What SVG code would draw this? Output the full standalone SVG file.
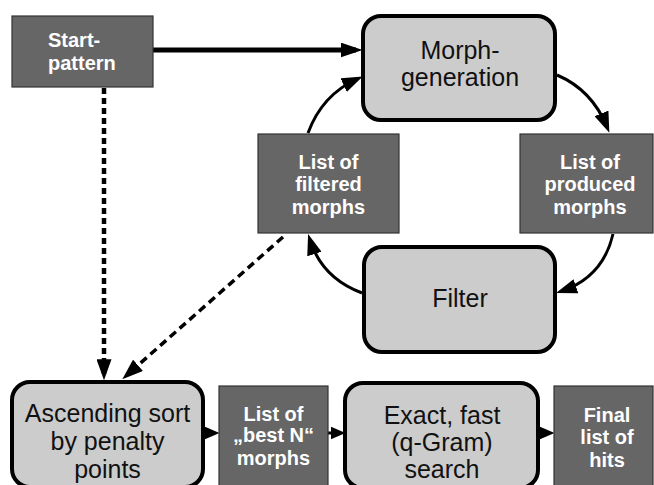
<svg xmlns="http://www.w3.org/2000/svg" width="654" height="485" viewBox="0 0 654 485">
<style>
.dark{fill:#666666;stroke:#333333;stroke-width:1.2}
.light{fill:#cccccc;stroke:#000000;stroke-width:4}
.tb{font-family:"Liberation Sans",Arial,sans-serif;font-weight:bold;font-size:20px;fill:#ffffff;text-anchor:middle}
.tr{font-family:"Liberation Sans",Arial,sans-serif;font-size:25px;fill:#111111;text-anchor:middle}
.c{fill:none;stroke:#000000}
</style>
<defs>
<marker id="big" viewBox="0 0 10 10" refX="7" refY="5" markerWidth="22" markerHeight="15" markerUnits="userSpaceOnUse" orient="auto" preserveAspectRatio="none"><path d="M0,0 L10,5 L0,10 z" fill="#000"/></marker>
<marker id="mid" viewBox="0 0 10 10" refX="7" refY="5" markerWidth="21" markerHeight="15" markerUnits="userSpaceOnUse" orient="auto" preserveAspectRatio="none"><path d="M0,0 L10,5 L0,10 z" fill="#000"/></marker>
<marker id="sm" viewBox="0 0 10 10" refX="7" refY="5" markerWidth="15" markerHeight="13" markerUnits="userSpaceOnUse" orient="auto" preserveAspectRatio="none"><path d="M0,0 L10,5 L0,10 z" fill="#000"/></marker>
</defs>

<g id="connectors">
<line class="c" x1="153" y1="50" x2="356" y2="50" stroke-width="5" marker-end="url(#big)"/>
<line class="c" x1="104" y1="88" x2="104" y2="374" stroke-width="4.5" stroke-dasharray="6,4" marker-end="url(#mid)"/>
<line class="c" x1="283" y1="237" x2="127" y2="375" stroke-width="3.5" stroke-dasharray="8,5" marker-end="url(#mid)"/>
<path class="c" d="M308,133 Q322,95 357,79" stroke-width="3" marker-end="url(#mid)"/>
<path class="c" d="M557,75 Q592,90 607,127" stroke-width="3" marker-end="url(#mid)"/>
<path class="c" d="M613,234 Q603,277 562,291" stroke-width="3" marker-end="url(#mid)"/>
<path class="c" d="M362,293 Q322,278 310,240" stroke-width="3" marker-end="url(#mid)"/>
<line class="c" x1="203" y1="433" x2="215" y2="433" stroke-width="3" marker-end="url(#sm)"/>
<line class="c" x1="328" y1="433" x2="341" y2="433" stroke-width="3" marker-end="url(#sm)"/>
<line class="c" x1="538" y1="433" x2="550" y2="433" stroke-width="3" marker-end="url(#sm)"/>
</g>

<g id="start">
<rect class="dark" x="12" y="16" width="141" height="71"/>
<text class="tb" style="text-anchor:start" x="48" y="47">Start-</text>
<text class="tb" style="text-anchor:start" x="48" y="70">pattern</text>
</g>

<g id="morphgen">
<rect class="light" x="363" y="16" width="192" height="104" rx="18"/>
<text class="tr" x="460" y="59">Morph-</text>
<text class="tr" x="460" y="86">generation</text>
</g>

<g id="filtered">
<rect class="dark" x="258" y="134" width="141" height="99"/>
<text class="tb" x="328.5" y="169">List of</text>
<text class="tb" x="328.5" y="191">filtered</text>
<text class="tb" x="328.5" y="214">morphs</text>
</g>

<g id="produced">
<rect class="dark" x="520" y="134" width="133" height="99"/>
<text class="tb" x="590" y="169">List of</text>
<text class="tb" x="590" y="191">produced</text>
<text class="tb" x="590" y="214">morphs</text>
</g>

<g id="filter">
<rect class="light" x="364" y="247" width="191" height="105" rx="18"/>
<text class="tr" x="460" y="307">Filter</text>
</g>

<g id="sort">
<rect class="light" x="12" y="382" width="191" height="105" rx="18"/>
<text class="tr" x="107.5" y="422">Ascending sort</text>
<text class="tr" x="107.5" y="450">by penalty</text>
<text class="tr" x="107.5" y="478">points</text>
</g>

<g id="bestn">
<rect class="dark" x="219" y="386" width="109" height="102"/>
<text class="tb" x="273.5" y="421">List of</text>
<text class="tb" x="273.5" y="442">„best N“</text>
<text class="tb" x="273.5" y="465">morphs</text>
</g>

<g id="exact">
<rect class="light" x="345" y="383" width="193" height="105" rx="18"/>
<text class="tr" x="442" y="424">Exact, fast</text>
<text class="tr" x="442" y="451">(q-Gram)</text>
<text class="tr" x="442" y="478">search</text>
</g>

<g id="final">
<rect class="dark" x="554" y="386" width="99" height="102"/>
<text class="tb" x="607" y="422">Final</text>
<text class="tb" x="607" y="444">list of</text>
<text class="tb" x="607" y="467">hits</text>
</g>
</svg>
